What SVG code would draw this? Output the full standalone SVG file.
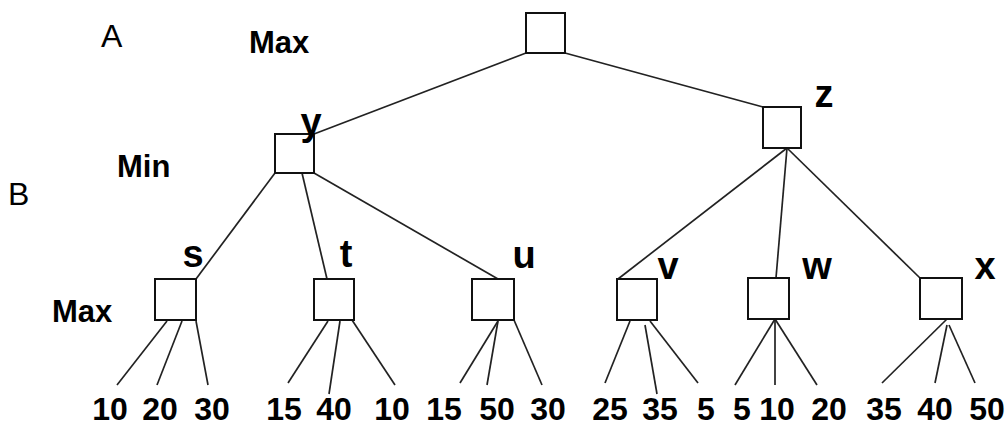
<svg xmlns="http://www.w3.org/2000/svg" width="1008" height="428" viewBox="0 0 1008 428">
<style>
.box{fill:#fff;stroke:#111;stroke-width:2}
.edge{stroke:#222;stroke-width:1.7;fill:none}
.lab{font-family:"Liberation Sans",Arial,sans-serif;font-weight:bold;font-size:38px;fill:#000;text-anchor:middle}
.lvl{font-family:"Liberation Sans",Arial,sans-serif;font-weight:bold;font-size:31px;fill:#000}
.side{font-family:"Liberation Sans",Arial,sans-serif;font-size:32px;fill:#000}
.num{font-family:"Liberation Sans",Arial,sans-serif;font-weight:bold;font-size:32px;fill:#000;text-anchor:middle}
</style>
<rect width="1008" height="428" fill="#fff"/>
<g id="connectors">
<line class="edge" x1="526" y1="53" x2="314" y2="134"/>
<line class="edge" x1="565" y1="53" x2="763" y2="107"/>
<line class="edge" x1="275" y1="173" x2="196" y2="279"/>
<line class="edge" x1="302" y1="173" x2="327" y2="279"/>
<line class="edge" x1="314" y1="173" x2="498" y2="279"/>
<line class="edge" x1="787" y1="148" x2="618" y2="279"/>
<line class="edge" x1="787" y1="148" x2="776" y2="278"/>
<line class="edge" x1="787" y1="148" x2="920" y2="278"/>
<line class="edge" x1="167" y1="321" x2="117" y2="385"/>
<line class="edge" x1="182" y1="321" x2="157" y2="385"/>
<line class="edge" x1="196" y1="321" x2="208" y2="385"/>
<line class="edge" x1="328" y1="321" x2="288" y2="383"/>
<line class="edge" x1="340" y1="321" x2="329" y2="394"/>
<line class="edge" x1="352" y1="320" x2="395" y2="385"/>
<line class="edge" x1="498" y1="321" x2="460" y2="383"/>
<line class="edge" x1="498" y1="321" x2="487" y2="385"/>
<line class="edge" x1="514" y1="320" x2="542" y2="385"/>
<line class="edge" x1="630" y1="321" x2="605" y2="383"/>
<line class="edge" x1="645" y1="325" x2="657" y2="394"/>
<line class="edge" x1="650" y1="321" x2="698" y2="383"/>
<line class="edge" x1="775" y1="319" x2="735" y2="385"/>
<line class="edge" x1="775" y1="319" x2="775" y2="385"/>
<line class="edge" x1="775" y1="319" x2="817" y2="385"/>
<line class="edge" x1="947" y1="319" x2="882" y2="383"/>
<line class="edge" x1="947" y1="325" x2="935" y2="383"/>
<line class="edge" x1="949" y1="325" x2="975" y2="383"/>
</g>
<g id="levels">
<text class="side" x="101" y="47">A</text>
<text class="lvl" x="249" y="53">Max</text>
<text class="lvl" x="117" y="177">Min</text>
<text class="side" x="8" y="205">B</text>
<text class="lvl" x="52" y="322">Max</text>
</g>
<g id="root"><rect class="box" x="526" y="13" width="39" height="40"/></g>
<g id="node-y"><rect class="box" x="275" y="134" width="39" height="39"/><text class="lab" x="311" y="135">y</text></g>
<g id="node-z"><rect class="box" x="763" y="107" width="38" height="41"/><text class="lab" x="824" y="107">z</text></g>
<g id="node-s"><rect class="box" x="155" y="279" width="41" height="41"/><text class="lab" x="193" y="267">s</text></g>
<g id="node-t"><rect class="box" x="314" y="279" width="40" height="41"/><text class="lab" x="346" y="267">t</text></g>
<g id="node-u"><rect class="box" x="472" y="279" width="42" height="41"/><text class="lab" x="524" y="268">u</text></g>
<g id="node-v"><rect class="box" x="617" y="279" width="40" height="41"/><text class="lab" x="668" y="279">v</text></g>
<g id="node-w"><rect class="box" x="748" y="278" width="41" height="41"/><text class="lab" x="817" y="279">w</text></g>
<g id="node-x"><rect class="box" x="920" y="278" width="42" height="41"/><text class="lab" x="985" y="279">x</text></g>
<g id="leaves">
<text class="num" x="110" y="420">10</text>
<text class="num" x="160" y="420">20</text>
<text class="num" x="212" y="420">30</text>
<text class="num" x="284" y="420">15</text>
<text class="num" x="334" y="420">40</text>
<text class="num" x="392" y="420">10</text>
<text class="num" x="444" y="420">15</text>
<text class="num" x="497" y="420">50</text>
<text class="num" x="548" y="420">30</text>
<text class="num" x="610" y="420">25</text>
<text class="num" x="660" y="420">35</text>
<text class="num" x="706" y="420">5</text>
<text class="num" x="742" y="420">5</text>
<text class="num" x="777" y="420">10</text>
<text class="num" x="829" y="420">20</text>
<text class="num" x="884" y="420">35</text>
<text class="num" x="935" y="420">40</text>
<text class="num" x="987" y="420">50</text>
</g>
</svg>
